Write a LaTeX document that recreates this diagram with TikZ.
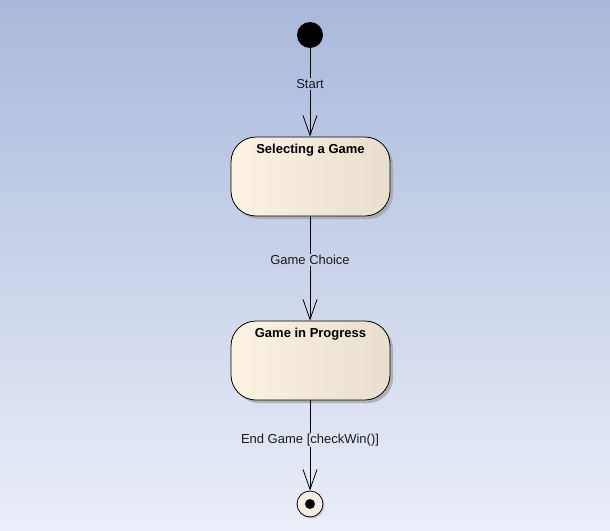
\documentclass[tikz,border=0pt]{standalone}
\usepackage{fontspec}
\setmainfont{Liberation Sans}
\usepackage{tikz}
\usetikzlibrary{arrows.meta,shadows}

\definecolor{bgTop}{HTML}{A9B8DB}
\definecolor{bgBot}{HTML}{EAEEF8}
\definecolor{stLeft}{HTML}{FDF3E3}
\definecolor{stRight}{HTML}{E7DECE}
\definecolor{endFill}{HTML}{F3EDE2}

\begin{document}
\begin{tikzpicture}[x=1pt, y=-1pt,
        font=\fontsize{13}{15}\selectfont,
        lbl/.style ={inner sep=1pt, text=black!90},
        state/.style ={draw, line width=0.8pt, rounded corners=25pt,
            minimum width=159pt, minimum height=79pt,
            left color=stLeft, middle color=stLeft, right color=stRight,
            drop shadow={shadow xshift=3pt, shadow yshift=-3pt, fill=black!35, opacity=0.8}},
        title/.style ={font=\fontsize{13}{15}\selectfont\bfseries, anchor=north, inner sep=7.5pt},
        trans/.style ={line width=0.8pt, -{Straight Barb[length=20pt, width=14pt]}}]
    %--- Background ---
    \fill[top color=bgTop, bottom color=bgBot] (0,0) rectangle (610,530);
    \useasboundingbox (0,0) rectangle (610,530);

    %--- Nodes ---
    \node[circle, fill=black, minimum size=26pt, inner sep=0pt] (init) at (310, 35) {};
    \node[state, label={[title]north:Selecting a Game}] (sel) at (310.5, 176.5) {};
    \node[state, label={[title]north:Game in Progress}] (prog) at (310.5, 360.5) {};
    \node[circle, draw, line width=0.8pt, fill=endFill, minimum size=26pt, inner sep=0pt,
        drop shadow={shadow xshift=1.5pt, shadow yshift=-1.5pt, fill=black!30, opacity=0.6},
        path picture={\fill[black] (path picture bounding box.center) circle (5pt);}] (final) at (310, 504) {};

    %--- Transition labels ---
    \node[lbl] (tStart) at (310, 84) {Start};
    \node[lbl] (tChoice) at (310, 260) {Game Choice};
    \node[lbl] (tEnd) at (310, 440) {End Game [checkWin()]};

    %--- Transitions ---
    \draw[line width=0.8pt] (init) -- (tStart);
    \draw[trans] (tStart) -- (sel.north -| tStart);

    \draw[line width=0.8pt] (sel.south -| tChoice) -- (tChoice);
    \draw[trans] (tChoice) -- (prog.north -| tChoice);

    \draw[line width=0.8pt] (prog.south -| tEnd) -- (tEnd);
    \draw[trans] (tEnd) -- (final);

\end{tikzpicture}
\end{document}
